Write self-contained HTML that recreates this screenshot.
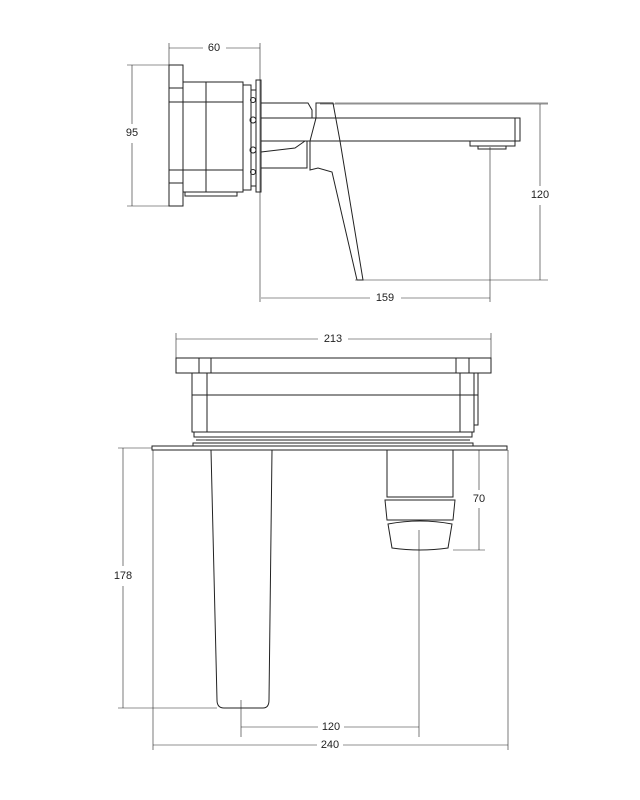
<!DOCTYPE html>
<html><head><meta charset="utf-8"><style>
html,body{margin:0;padding:0;background:#fff;}
svg{display:block;}
text{font-family:"Liberation Sans",sans-serif;font-size:11px;fill:#222;text-anchor:middle;dominant-baseline:middle;}
</style></head><body>
<svg width="640" height="800" viewBox="0 0 640 800" xmlns="http://www.w3.org/2000/svg">
<g fill="none" stroke="#222" stroke-width="1">
<!-- TOP VIEW -->
<!-- ext lines -->
<line x1="169" y1="43" x2="169" y2="66" stroke-width="0.6"/>
<line x1="260" y1="43" x2="260" y2="302" stroke-width="0.6"/>
<line x1="127" y1="65" x2="170" y2="65" stroke-width="0.6"/>
<line x1="127" y1="206" x2="170" y2="206" stroke-width="0.6"/>
<line x1="320" y1="104" x2="548" y2="104" stroke-width="0.6"/>
<line x1="355" y1="280" x2="548" y2="280" stroke-width="0.6"/>
<line x1="490" y1="147" x2="490" y2="302" stroke-width="0.6"/>
<!-- dims -->
<line x1="169" y1="48" x2="203" y2="48" stroke-width="0.6"/><line x1="226" y1="48" x2="260" y2="48" stroke-width="0.6"/>
<line x1="132" y1="65" x2="132" y2="124" stroke-width="0.6"/><line x1="132" y1="143" x2="132" y2="206" stroke-width="0.6"/>
<line x1="540" y1="104" x2="540" y2="186" stroke-width="0.6"/><line x1="540" y1="205" x2="540" y2="280" stroke-width="0.6"/>
<line x1="261" y1="298" x2="370" y2="298" stroke-width="0.6"/><line x1="401" y1="298" x2="490" y2="298" stroke-width="0.6"/>
<!-- flange -->
<rect x="169" y="65" width="14" height="141"/>
<line x1="169" y1="88" x2="183" y2="88"/><line x1="169" y1="102" x2="183" y2="102"/>
<line x1="169" y1="170" x2="183" y2="170"/><line x1="169" y1="183" x2="183" y2="183"/>
<rect x="183" y="82" width="60" height="110"/>
<line x1="206" y1="82" x2="206" y2="192"/>
<line x1="183" y1="102" x2="243" y2="102"/><line x1="183" y1="170" x2="243" y2="170"/>
<rect x="185" y="192" width="52" height="4"/>
<rect x="243" y="85" width="8" height="105"/>
<rect x="251" y="90" width="5" height="96"/>
<circle cx="253" cy="100" r="2.5"/><circle cx="253" cy="120" r="3"/><circle cx="253" cy="150" r="3"/><circle cx="253" cy="172" r="2.5"/>
<rect x="256" y="80" width="5" height="112"/>
<!-- spout -->
<polyline points="261,103 308,103 312,110 312,118"/>
<rect x="261" y="118" width="259" height="23"/>
<line x1="515" y1="118" x2="515" y2="141"/>
<polyline points="261,168 307,168 307,141"/>
<polyline points="261,152 295,148 305,141"/>
<rect x="470" y="141" width="45" height="5"/>
<rect x="478" y="146" width="28" height="3"/>
<!-- lever -->
<polygon points="316,103 333,103 340,141 363,280 357,280 332,172 318,168 310,170 310,141 316,118"/>
<line x1="335" y1="103" x2="548" y2="103" stroke-width="0.6"/>
<!-- BOTTOM VIEW -->
<line x1="176" y1="333" x2="176" y2="360" stroke-width="0.6"/>
<line x1="491" y1="333" x2="491" y2="360" stroke-width="0.6"/>
<line x1="176" y1="339" x2="318" y2="339" stroke-width="0.6"/><line x1="348" y1="339" x2="491" y2="339" stroke-width="0.6"/>
<rect x="176" y="358" width="315" height="15"/>
<line x1="199" y1="358" x2="199" y2="373"/><line x1="211" y1="358" x2="211" y2="373"/>
<line x1="456" y1="358" x2="456" y2="373"/><line x1="469" y1="358" x2="469" y2="373"/>
<rect x="192" y="373" width="282" height="59"/>
<line x1="192" y1="395" x2="478" y2="395"/>
<line x1="207" y1="373" x2="207" y2="432"/><line x1="460" y1="373" x2="460" y2="432"/>
<polyline points="474,373 478,373 478,425 474,425"/>
<rect x="194" y="432" width="278" height="5"/>
<line x1="196" y1="440" x2="470" y2="440"/>
<rect x="193" y="443" width="280" height="3"/>
<rect x="152" y="446" width="355" height="4"/>
<!-- left spout -->
<path d="M211,450 L217,700 Q217,708 224,708 L263,708 Q269,708 269,700 L272,450"/>
<!-- handle -->
<rect x="387" y="450" width="66" height="47"/>
<path d="M385,500 L455,500 L453,520 L387,520 Z"/>
<line x1="392" y1="500" x2="448" y2="500"/>
<path d="M388,524 Q420,518 452,524 L448,548 Q420,552 392,548 Z"/>
<!-- dims -->
<line x1="453" y1="450" x2="485" y2="450" stroke-width="0.6"/>
<line x1="453" y1="550" x2="485" y2="550" stroke-width="0.6"/>
<line x1="479" y1="450" x2="479" y2="490" stroke-width="0.6"/><line x1="479" y1="508" x2="479" y2="550" stroke-width="0.6"/>
<line x1="118" y1="448" x2="152" y2="448" stroke-width="0.6"/>
<line x1="118" y1="708" x2="217" y2="708" stroke-width="0.6"/>
<line x1="123" y1="448" x2="123" y2="566" stroke-width="0.6"/><line x1="123" y1="586" x2="123" y2="708" stroke-width="0.6"/>
<line x1="241" y1="700" x2="241" y2="737" stroke-width="0.6"/>
<line x1="419" y1="530" x2="419" y2="737" stroke-width="0.6"/>
<line x1="153" y1="450" x2="153" y2="750" stroke-width="0.6"/>
<line x1="508" y1="450" x2="508" y2="750" stroke-width="0.6"/>
<line x1="241" y1="727" x2="318" y2="727" stroke-width="0.6"/><line x1="344" y1="727" x2="419" y2="727" stroke-width="0.6"/>
<line x1="153" y1="745" x2="317" y2="745" stroke-width="0.6"/><line x1="343" y1="745" x2="508" y2="745" stroke-width="0.6"/>
</g>
<text x="214" y="48">60</text>
<text x="132" y="133">95</text>
<text x="540" y="195">120</text>
<text x="385" y="298">159</text>
<text x="333" y="339">213</text>
<text x="479" y="499">70</text>
<text x="123" y="576">178</text>
<text x="331" y="727">120</text>
<text x="330" y="745">240</text>
</svg>
</body></html>
